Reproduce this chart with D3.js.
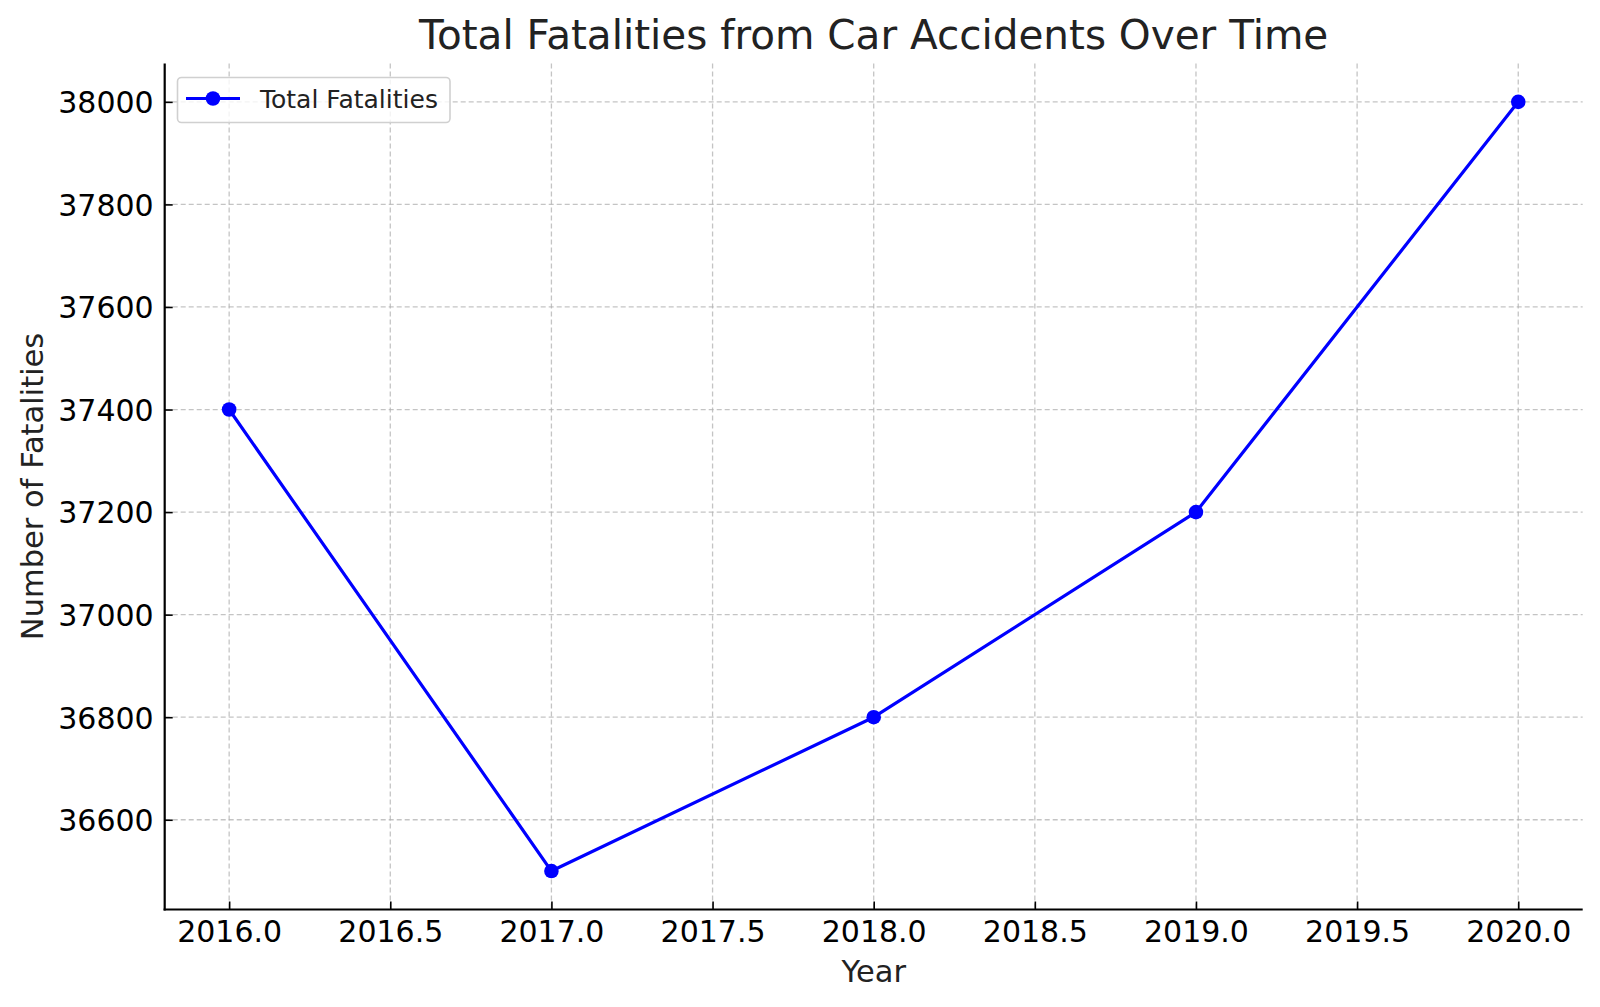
<!DOCTYPE html>
<html>
<head>
<meta charset="utf-8">
<script src="https://cdn.jsdelivr.net/npm/d3@7"></script>
<style>
  html, body { margin: 0; padding: 0; background: #fff; }
  svg { display: block; font-family: "DejaVu Sans", sans-serif; }
</style>
</head>
<body>
<svg id="chart" width="1600" height="1007"></svg>
<script>
const years = [2016, 2017, 2018, 2019, 2020];
const fatalities = [37400, 36500, 36800, 37200, 38000];
const xTicks = [2016.0, 2016.5, 2017.0, 2017.5, 2018.0, 2018.5, 2019.0, 2019.5, 2020.0];
const yTicks = [36600, 36800, 37000, 37200, 37400, 37600, 37800, 38000];
const seriesName = "Total Fatalities";
const titleText = "Total Fatalities from Car Accidents Over Time";
const xLabel = "Year";
const yLabel = "Number of Fatalities";

const svg = d3.select("#chart");
const L = 164.7, R = 1582.7, T = 63.4, B = 909.5;

const x = d3.scaleLinear().domain([2015.8, 2020.2]).range([L, R]);
const y = d3.scaleLinear().domain([36425, 38075]).range([B, T]);

// grid
const grid = svg.append("g");
grid.selectAll("line.vx").data(xTicks).join("line")
  .attr("x1", d => x(d)).attr("x2", d => x(d)).attr("y1", T).attr("y2", B)
  .attr("stroke", "#b0b0b0").attr("stroke-opacity", 0.75).attr("stroke-width", 1.3)
  .attr("stroke-dasharray", "5,3");
grid.selectAll("line.hy").data(yTicks).join("line")
  .attr("x1", L).attr("x2", R).attr("y1", d => y(d)).attr("y2", d => y(d))
  .attr("stroke", "#b0b0b0").attr("stroke-opacity", 0.75).attr("stroke-width", 1.3)
  .attr("stroke-dasharray", "5,3");

// axes (ticks pointing inward, like the reference)
const xAxis = d3.axisBottom(x).tickValues(xTicks).tickFormat(d3.format(".1f")).tickSizeInner(-8).tickSizeOuter(0).tickPadding(10);
const yAxis = d3.axisLeft(y).tickValues(yTicks).tickFormat(d3.format("d")).tickSizeInner(-8).tickSizeOuter(0).tickPadding(11);

const gx = svg.append("g").attr("transform", `translate(0,${B})`).call(xAxis);
const gy = svg.append("g").attr("transform", `translate(${L},0)`).call(yAxis);
[gx, gy].forEach(g => {
  g.select(".domain").remove();
  g.selectAll(".tick line").attr("stroke", "#000").attr("stroke-width", 1.6);
  g.selectAll(".tick text").attr("fill", "#000").style("font-size", "30px").style("font-family", "DejaVu Sans");
});
gx.selectAll(".tick text").attr("y", 0).attr("dy", null).attr("transform", "translate(0,32.5)");
gy.selectAll(".tick text").attr("x", -11).attr("dy", "0.36em");

// spines (left and bottom only)
svg.append("line").attr("x1", L).attr("x2", L).attr("y1", T).attr("y2", B + 1)
  .attr("stroke", "#000").attr("stroke-width", 2.2);
svg.append("line").attr("x1", L - 1.1).attr("x2", R).attr("y1", B).attr("y2", B)
  .attr("stroke", "#000").attr("stroke-width", 2.2);

// line
const data = years.map((yr, i) => ({ x: yr, y: fatalities[i] }));
svg.append("path").datum(data)
  .attr("fill", "none").attr("stroke", "#0000ff").attr("stroke-width", 3.2)
  .attr("stroke-linejoin", "round")
  .attr("d", d3.line().x(d => x(d.x)).y(d => y(d.y)));
svg.selectAll("circle.pt").data(data).join("circle")
  .attr("cx", d => x(d.x)).attr("cy", d => y(d.y)).attr("r", 7.3)
  .attr("fill", "#0000ff");

// title and labels
svg.append("text").attr("x", (L + R) / 2).attr("y", 48.5).attr("text-anchor", "middle")
  .style("font-size", "40.5px").attr("fill", "#222").text(titleText);
svg.append("text").attr("x", (L + R) / 2).attr("y", 981.5).attr("text-anchor", "middle")
  .style("font-size", "30.5px").attr("fill", "#222").text(xLabel);
svg.append("text").attr("transform", `translate(42.5,${(T + B) / 2}) rotate(-90)`).attr("text-anchor", "middle")
  .style("font-size", "30.5px").attr("fill", "#222").text(yLabel);

// legend
const lg = svg.append("g");
lg.append("rect").attr("x", 177.5).attr("y", 77.5).attr("width", 272.5).attr("height", 45)
  .attr("rx", 4).attr("fill", "#fff").attr("fill-opacity", 0.8)
  .attr("stroke", "#d0d0d0").attr("stroke-width", 1.6);
lg.append("line").attr("x1", 186).attr("x2", 240).attr("y1", 98.5).attr("y2", 98.5)
  .attr("stroke", "#0000ff").attr("stroke-width", 3.2);
lg.append("circle").attr("cx", 213).attr("cy", 98.5).attr("r", 7.3).attr("fill", "#0000ff");
lg.append("text").attr("x", 260).attr("y", 98.5).attr("dy", "0.36em")
  .style("font-size", "25px").attr("fill", "#222").text(seriesName);
</script>
</body>
</html>
